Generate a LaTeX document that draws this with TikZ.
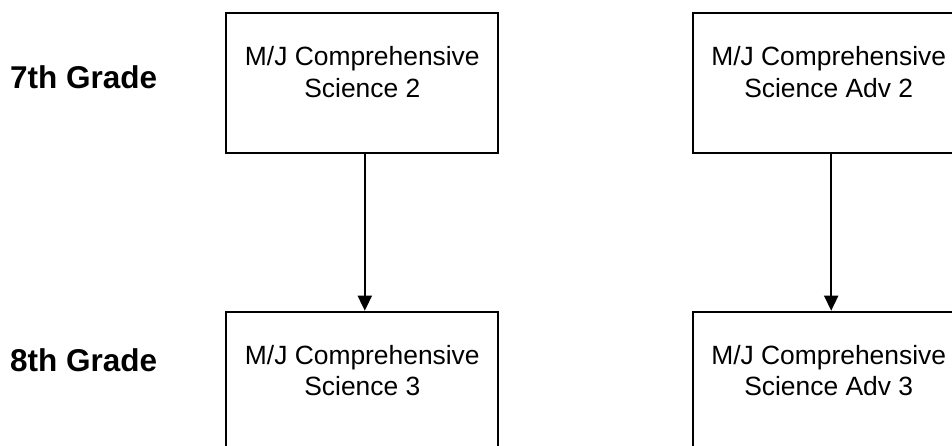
\documentclass[tikz,border=0pt]{standalone}
\usepackage{fontspec}
\setmainfont{Liberation Sans}
\usetikzlibrary{arrows.meta}
\begin{document}
\begin{tikzpicture}[x=1pt,y=-1pt,
  box/.style={draw=black, line width=2pt, minimum width=272pt, minimum height=139.4pt, inner sep=0pt, anchor=north west},
  boxtext/.style={anchor=north, inner sep=0pt, align=center, font=\fontsize{26.4}{31.7}\selectfont},
  grade/.style={anchor=base west, inner sep=0pt, font=\fontsize{31.5}{36}\selectfont\bfseries},
  conn/.style={line width=1.8pt, -{Triangle[length=15pt,width=14pt]}}]
\useasboundingbox (0,0) rectangle (952,445);
\begin{scope}
\clip (0,0) rectangle (952,445);
\node[grade] (g7) at (10,88.3) {7th Grade};
\node[grade] (g8) at (10,371.7) {8th Grade};
\node[box] (a2) at (225.3,12.3) {};
\node[box] (b2) at (691.7,12.3) {};
\node[box] (a3) at (225.3,310.7) {};
\node[box] (b3) at (691.7,310.7) {};
\node[boxtext] (ta2) at ([yshift=-34pt]a2.north) {M/J Comprehensive\\Science 2};
\node[boxtext] (tb2) at ([yshift=-34pt]b2.north) {M/J Comprehensive\\Science Adv 2};
\node[boxtext] (ta3) at ([yshift=-34pt]a3.north) {M/J Comprehensive\\Science 3};
\node[boxtext] (tb3) at ([yshift=-34pt]b3.north) {M/J Comprehensive\\Science Adv 3};
\draw[conn] ([xshift=2.5pt]a2.south) -- ([xshift=2.5pt]a3.north);
\draw[conn] ([xshift=2.5pt]b2.south) -- ([xshift=2.5pt]b3.north);
\end{scope}
\end{tikzpicture}
\end{document}
